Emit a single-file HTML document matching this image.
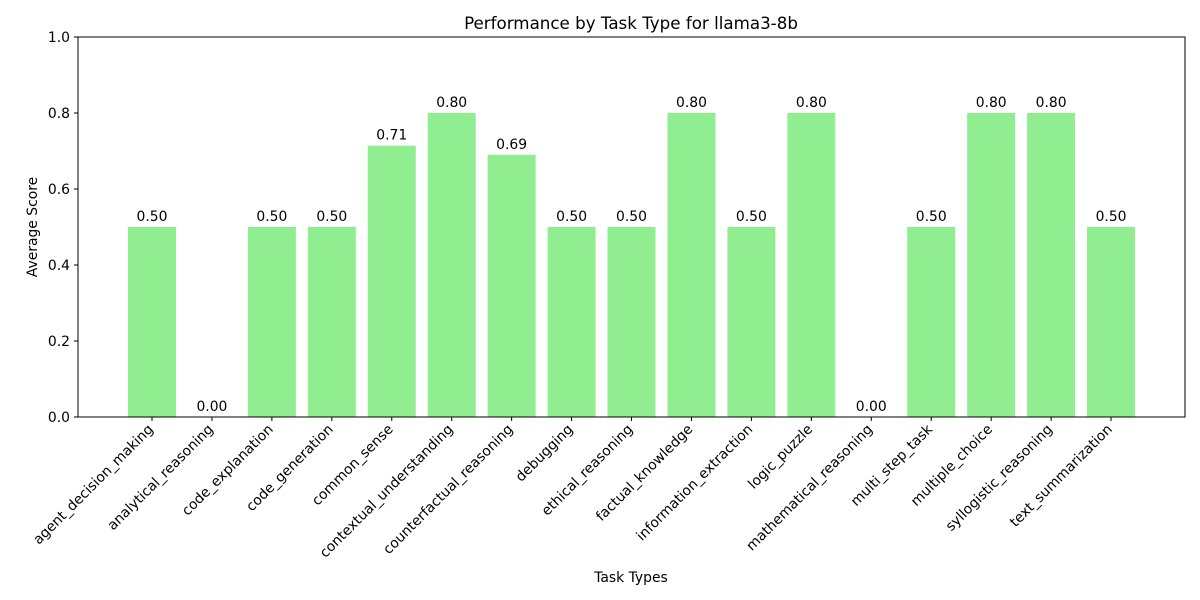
<!DOCTYPE html>
<html><head><meta charset="utf-8"><style>
html,body{margin:0;padding:0;background:#fff;}
svg{display:block;font-family:"DejaVu Sans","Liberation Sans",sans-serif;}
</style></head><body>
<svg id="chart" width="1200" height="600" viewBox="0 0 1200 600" xmlns="http://www.w3.org/2000/svg">
<rect width="1200" height="600" fill="#fff"/>
<text x="631" y="29" font-size="16.7" text-anchor="middle" fill="#000">Performance by Task Type for llama3-8b</text>
<g id="plot"></g>
<text x="631" y="582" font-size="13.9" text-anchor="middle">Task Types</text>
<text x="0" y="0" font-size="13.9" text-anchor="middle" transform="translate(37,227) rotate(-90)">Average Score</text>
</svg>
<script>
const categories = ["agent_decision_making","analytical_reasoning","code_explanation","code_generation","common_sense","contextual_understanding","counterfactual_reasoning","debugging","ethical_reasoning","factual_knowledge","information_extraction","logic_puzzle","mathematical_reasoning","multi_step_task","multiple_choice","syllogistic_reasoning","text_summarization"];
const scores = [0.50,0.00,0.50,0.50,0.714,0.80,0.69,0.50,0.50,0.80,0.50,0.80,0.00,0.50,0.80,0.80,0.50];
const yTicks = [0.0,0.2,0.4,0.6,0.8,1.0];

const NS = "http://www.w3.org/2000/svg";
const L = 78, R = 1185, T = 37, B = 417;
const x0 = 152, step = 59.94, bw = 48;
const xPos = i => x0 + step * i;
const yPos = v => B - (B - T) * v;
const g = document.getElementById('plot');
function mk(tag, attrs, text) {
  const e = document.createElementNS(NS, tag);
  for (const k in attrs) e.setAttribute(k, attrs[k]);
  if (text !== undefined) e.textContent = text;
  g.appendChild(e);
  return e;
}
categories.forEach((c, i) => {
  const v = scores[i];
  const bar = mk('rect', {x: xPos(i) - bw / 2, y: yPos(v), width: bw, height: B - yPos(v), fill: '#90ee90'});
  
  
  const lab = mk('text', {x: xPos(i), y: yPos(v) - 6, 'font-size': 13.9, 'text-anchor': 'middle'}, v.toFixed(2));
  
  
  const tk = mk('line', {x1: xPos(i), x2: xPos(i), y1: B, y2: B + 4, stroke: '#000', 'stroke-width': 1});
  
  
  const tx = xPos(i) + 2, ty = B + 13;
  const tl = mk('text', {x: tx, y: ty, 'font-size': 13.9, 'text-anchor': 'end', transform: `rotate(-45 ${tx} ${ty})`}, c);
  
  
});
yTicks.forEach(v => {
  const y = yPos(v);
  const tk = mk('line', {x1: L - 4, x2: L, y1: y, y2: y, stroke: '#000', 'stroke-width': 1});
  
  
  const tl = mk('text', {x: L - 8, y: y + 5, 'font-size': 13.9, 'text-anchor': 'end'}, v.toFixed(1));
  
  
});
const frame = mk('rect', {x: L, y: T, width: R - L, height: B - T, fill: 'none', stroke: '#000', 'stroke-width': 1});


</script>
</body></html>
